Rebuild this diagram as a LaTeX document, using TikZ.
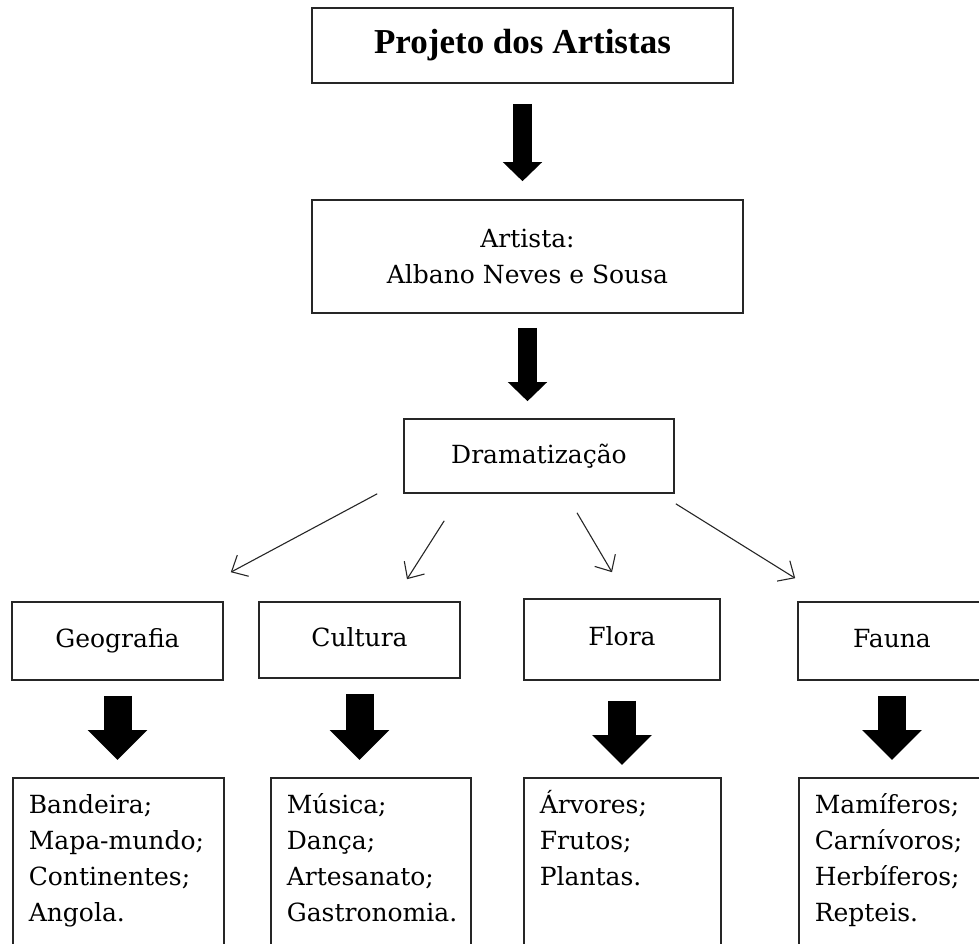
\documentclass[tikz,border=0pt]{standalone}
\usepackage{fontspec}
\setmainfont{DejaVu Serif}
\newfontfamily\titlefont{Liberation Serif}
\usetikzlibrary{arrows.meta}

\begin{document}
\begin{tikzpicture} [x=1pt, y=-1pt,
  every node/.style={font=\fontsize{25}{36}\selectfont},
  box/.style={draw=black!85, line width=1.6pt, rectangle, inner sep=0pt},
  topic/.style={box, text height=18pt, text depth=6pt},
  listbox/.style={draw=black!85, line width=1.6pt, rectangle, anchor=north west, inner xsep=16pt, inner ysep=10.8pt},
  bigarrow/.style={line width=19pt, -{Triangle[length=19pt,width=38pt]}},
  smallarrow/.style={line width=28pt, -{Triangle[length=30pt,width=58pt]}},
  fanarrow/.style={line width=1.1pt, black!85, -{Straight Barb[length=13pt,width=24pt]}}]
\useasboundingbox (0,0) rectangle (979,944);
\clip (0,0) rectangle (979,944);
% top of the chart
\node [box, minimum width=421pt, minimum height=75pt] (title) at (522.5,45.5) {\titlefont\fontsize{35}{40}\selectfont\bfseries Projeto dos Artistas};
\node [box, minimum width=431pt, minimum height=113pt, align=center] (artista) at (527.5,256.5) {Artista:\\Albano Neves e Sousa};
\node [box, minimum width=270pt, minimum height=74pt] (drama) at (539,456) {Dramatização};
% themes
\node [topic, minimum width=211pt, minimum height=78pt] (geo) at (117.5,641) {Geografia};
\node [topic, minimum width=201pt, minimum height=76pt] (cult) at (359.5,640) {Cultura};
\node [topic, minimum width=196pt, minimum height=81pt] (flora) at (622,639.5) {Flora};
\node [topic, minimum width=188pt, minimum height=78pt] (fauna) at (892,641) {Fauna};
% lists
\node [listbox] (geolist) at (12,777) {\parbox[t][200pt][t]{179pt}{\raggedright\strut Bandeira;\\Mapa-mundo;\\Continentes;\\Angola.}};
\node [listbox] (cultlist) at (270,777) {\parbox[t][200pt][t]{168pt}{\raggedright\strut Música;\\Dança;\\Artesanato;\\Gastronomia.}};
\node [listbox] (floralist) at (523,777) {\parbox[t][200pt][t]{165pt}{\raggedright\strut Árvores;\\Frutos;\\Plantas.}};
\node [listbox] (faunalist) at (798,777) {\parbox[t][200pt][t]{160pt}{\raggedright\strut Mamíferos;\\Carnívoros;\\Herbíferos;\\Repteis.}};
\draw [bigarrow, shorten <=20pt, shorten >=18pt] (title.south) -- (title.south |- artista.north);
\draw [bigarrow, shorten <=14pt, shorten >=17pt] (artista.south) -- (artista.south |- drama.north);
\draw [fanarrow] ([xshift=-26pt]drama.south west) -- ([xshift=7pt,yshift=29pt]geo.north east); % fan
\draw [fanarrow] ([xshift=41pt,yshift=-27pt]drama.south west) -- ([xshift=47.5pt,yshift=22pt]cult.north);
\draw [fanarrow] ([xshift=38pt,yshift=-19pt]drama.south) -- ([xshift=-10pt,yshift=26pt]flora.north);
\draw [fanarrow] ([xshift=1pt,yshift=-10pt]drama.south east) -- ([xshift=-2pt,yshift=23pt]fauna.north west);
\draw [smallarrow, shorten <=15pt, shorten >=17pt] (geo.south) -- (geo.south |- geolist.north);
\draw [smallarrow, shorten <=15pt, shorten >=17pt] (cult.south) -- (cult.south |- cultlist.north);
\draw [smallarrow, shorten <=20pt, shorten >=12pt] (flora.south) -- (flora.south |- floralist.north);
\draw [smallarrow, shorten <=15pt, shorten >=17pt] (fauna.south) -- (fauna.south |- faunalist.north);
\end{tikzpicture}
\end{document}
